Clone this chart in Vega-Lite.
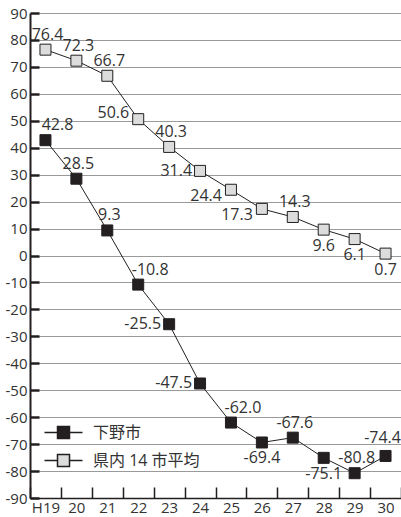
{
  "$schema": "https://vega.github.io/schema/vega-lite/v6.json",
  "width": 371,
  "height": 485,
  "autosize": {"type": "none"},
  "padding": {"left": 30, "top": 13, "right": 0, "bottom": 19},
  "config": {
    "font": "Open Sans, Noto Sans CJK JP",
    "view": {"stroke": null},
    "locale": {"number": {"decimal": ".", "thousands": ",", "grouping": [3], "currency": ["", ""], "minus": "-"}}
  },
  "data": {
    "values": [
      {"year": "H19", "series": "下野市", "value": 42.8},
      {"year": "20", "series": "下野市", "value": 28.5},
      {"year": "21", "series": "下野市", "value": 9.3},
      {"year": "22", "series": "下野市", "value": -10.8},
      {"year": "23", "series": "下野市", "value": -25.5},
      {"year": "24", "series": "下野市", "value": -47.5},
      {"year": "25", "series": "下野市", "value": -62.0},
      {"year": "26", "series": "下野市", "value": -69.4},
      {"year": "27", "series": "下野市", "value": -67.6},
      {"year": "28", "series": "下野市", "value": -75.1},
      {"year": "29", "series": "下野市", "value": -80.8},
      {"year": "30", "series": "下野市", "value": -74.4},
      {"year": "H19", "series": "県内 14 市平均", "value": 76.4},
      {"year": "20", "series": "県内 14 市平均", "value": 72.3},
      {"year": "21", "series": "県内 14 市平均", "value": 66.7},
      {"year": "22", "series": "県内 14 市平均", "value": 50.6},
      {"year": "23", "series": "県内 14 市平均", "value": 40.3},
      {"year": "24", "series": "県内 14 市平均", "value": 31.4},
      {"year": "25", "series": "県内 14 市平均", "value": 24.4},
      {"year": "26", "series": "県内 14 市平均", "value": 17.3},
      {"year": "27", "series": "県内 14 市平均", "value": 14.3},
      {"year": "28", "series": "県内 14 市平均", "value": 9.6},
      {"year": "29", "series": "県内 14 市平均", "value": 6.1},
      {"year": "30", "series": "県内 14 市平均", "value": 0.7}
    ]
  },
  "encoding": {
    "x": {
      "field": "year", "type": "ordinal", "sort": null,
      "scale": {"type": "band", "paddingInner": 0, "paddingOuter": 0},
      "axis": {
        "title": null, "labelAngle": 0, "grid": false,
        "domainColor": "#231f20", "domainWidth": 1.5,
        "tickBand": "extent", "tickSize": -11, "tickColor": "#231f20", "tickWidth": 1.5,
        "labelFontSize": 15, "labelColor": "#333", "labelPadding": 13
      }
    },
    "y": {
      "field": "value", "type": "quantitative",
      "scale": {"domain": [-90, 90], "nice": false},
      "axis": {
        "title": null,
        "values": [-90, -80, -70, -60, -50, -40, -30, -20, -10, 0, 10, 20, 30, 40, 50, 60, 70, 80, 90],
        "grid": true, "gridColor": "#9a9a9a", "gridWidth": 1,
        "domainColor": "#231f20", "domainWidth": 2,
        "tickSize": -9, "tickWidth": 2.5, "tickColor": "#231f20",
        "labelFontSize": 15, "labelColor": "#333", "labelPadding": 12
      }
    }
  },
  "layer": [
    {
      "mark": {"type": "line", "color": "#231f20", "strokeWidth": 1},
      "encoding": {"detail": {"field": "series", "type": "nominal"}}
    },
    {
      "mark": {"type": "point", "shape": "square", "filled": true, "size": 121, "stroke": "#231f20", "strokeWidth": 1, "opacity": 1},
      "encoding": {
        "fill": {
          "field": "series", "type": "nominal",
          "scale": {"domain": ["下野市", "県内 14 市平均"], "range": ["#231f20", "#dcdcdc"]},
          "legend": {
            "title": null, "orient": "none", "legendX": 25, "legendY": 411,
            "symbolType": "M-2.5,0H-0.79M0.79,0H2.5M-0.79,-0.79H0.79V0.79H-0.79Z",
            "symbolSize": 231, "symbolStrokeColor": "#231f20", "symbolStrokeWidth": 1.5,
            "labelFontSize": 16, "labelColor": "#333", "labelOffset": 21, "rowPadding": 9
          }
        }
      }
    },
    {
      "transform": [{"filter": "(datum.series === '県内 14 市平均' && indexof(['H19','20','21','23','27'], datum.year) >= 0) || (datum.series === '下野市' && indexof(['20','21','27','29'], datum.year) >= 0)"}],
      "mark": {"type": "text", "dx": 2, "dy": -15, "fontSize": 16, "color": "#333"},
      "encoding": {"text": {"field": "value", "type": "quantitative", "format": ".1f"}}
    },
    {
      "transform": [{"filter": "datum.series === '下野市' && datum.year === '30'"}],
      "mark": {"type": "text", "dx": -3, "dy": -18, "fontSize": 16, "color": "#333"},
      "encoding": {"text": {"field": "value", "type": "quantitative", "format": ".1f"}}
    },
    {
      "transform": [{"filter": "datum.series === '下野市' && indexof(['H19','22','25'], datum.year) >= 0"}],
      "mark": {"type": "text", "dx": 12, "dy": -15, "fontSize": 16, "color": "#333"},
      "encoding": {"text": {"field": "value", "type": "quantitative", "format": ".1f"}}
    },
    {
      "transform": [{"filter": "(datum.series === '県内 14 市平均' && datum.year === '24') || (datum.series === '下野市' && indexof(['23','24'], datum.year) >= 0)"}],
      "mark": {"type": "text", "align": "right", "dx": -8, "dy": 0, "fontSize": 16, "color": "#333"},
      "encoding": {"text": {"field": "value", "type": "quantitative", "format": ".1f"}}
    },
    {
      "transform": [{"filter": "datum.series === '県内 14 市平均' && datum.year === '22'"}],
      "mark": {"type": "text", "align": "right", "dx": -9, "dy": -6, "fontSize": 16, "color": "#333"},
      "encoding": {"text": {"field": "value", "type": "quantitative", "format": ".1f"}}
    },
    {
      "transform": [{"filter": "datum.series === '県内 14 市平均' && indexof(['25','26'], datum.year) >= 0"}],
      "mark": {"type": "text", "align": "right", "dx": -9, "dy": 6, "fontSize": 16, "color": "#333"},
      "encoding": {"text": {"field": "value", "type": "quantitative", "format": ".1f"}}
    },
    {
      "transform": [{"filter": "(datum.series === '県内 14 市平均' && indexof(['28','29','30'], datum.year) >= 0) || (datum.series === '下野市' && indexof(['26','28'], datum.year) >= 0)"}],
      "mark": {"type": "text", "dx": 0, "dy": 16, "fontSize": 16, "color": "#333"},
      "encoding": {"text": {"field": "value", "type": "quantitative", "format": ".1f"}}
    }
  ]
}
